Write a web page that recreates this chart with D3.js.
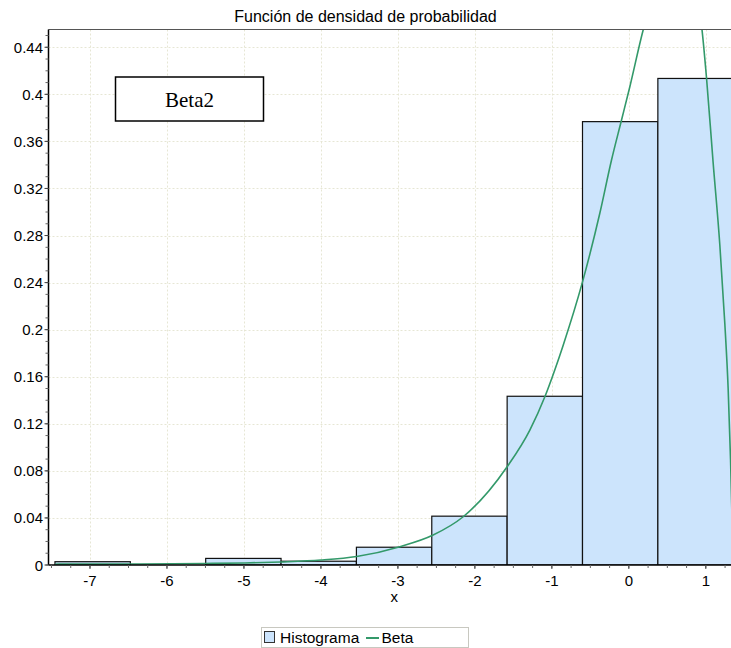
<!DOCTYPE html>
<html>
<head>
<meta charset="utf-8">
<script src="https://cdn.jsdelivr.net/npm/d3@7"></script>
<style>
  html, body { margin: 0; padding: 0; background: #fff; }
  svg { display: block; }
</style>
</head>
<body>
<svg id="chart" width="731" height="648"></svg>
<script>
// Histogram bins (edges) and their density heights
const binEdges = [-7.455, -6.476, -5.497, -4.518, -3.539, -2.560, -1.581, -0.602, 0.377, 1.356];
const binDensity = [0.0028, 0.0, 0.0056, 0.0032, 0.0151, 0.0415, 0.1434, 0.3768, 0.4135];

// Fitted Beta density, sampled along x
const curveX = [-7.455, -6.48, -5.506, -4.987, -4.519, -4.0, -3.536, -2.974, -2.542, -2.152,
                -1.581, -1.286, -1.091, -0.961, -0.857, -0.601, -0.377, -0.225, -0.095, 0.013,
                0.186, 0.40, 0.60, 0.80, 0.952, 1.009, 1.095, 1.182, 1.247, 1.290, 1.321, 1.356];
const curveY = [0.0007, 0.0008, 0.0013, 0.0017, 0.0026, 0.0042, 0.0072, 0.0156, 0.0255, 0.041,
                0.0835, 0.1147, 0.143, 0.166, 0.186, 0.2408, 0.2989, 0.3442, 0.3782, 0.4065,
                0.4547, 0.500, 0.518, 0.502, 0.454, 0.414, 0.342, 0.272, 0.205, 0.150, 0.090, 0.0];

// Axis ticks
const xTicks = [-7, -6, -5, -4, -3, -2, -1, 0, 1];
const yTicks = [0, 0.04, 0.08, 0.12, 0.16, 0.2, 0.24, 0.28, 0.32, 0.36, 0.4, 0.44];
const yTickLabels = ["0", "0.04", "0.08", "0.12", "0.16", "0.2", "0.24", "0.28", "0.32", "0.36", "0.4", "0.44"];

const titleText = "Función de densidad de probabilidad";
const xLabel = "x";
const noteText = "Beta2";
const legendLabels = ["Histograma", "Beta"];

const plot = { left: 48.5, right: 740, top: 29.5, bottom: 565 };
const W = 731, H = 648;
const sans = "'Liberation Sans', Arial, sans-serif";

const svg = d3.select("#chart");
svg.append("rect").attr("width", W).attr("height", H).attr("fill", "#fff");

const x = d3.scaleLinear().domain([-7.539, 1.444]).range([plot.left, plot.right]);
const y = d3.scaleLinear().domain([0, 0.4551]).range([plot.bottom, plot.top]);

svg.append("defs").append("clipPath").attr("id", "plotClip")
  .append("rect")
  .attr("x", plot.left).attr("y", plot.top)
  .attr("width", plot.right - plot.left).attr("height", plot.bottom - plot.top);

// Grid lines
const grid = svg.append("g").attr("stroke", "#e6e6d4").attr("stroke-dasharray", "2,2").attr("stroke-width", 1);
grid.selectAll("line.v").data(xTicks).join("line").attr("class", "v")
  .attr("x1", d => Math.round(x(d)) + 0.5).attr("x2", d => Math.round(x(d)) + 0.5)
  .attr("y1", plot.top).attr("y2", plot.bottom);
grid.selectAll("line.h").data(yTicks.slice(1)).join("line").attr("class", "h")
  .attr("y1", d => Math.round(y(d)) + 0.5).attr("y2", d => Math.round(y(d)) + 0.5)
  .attr("x1", plot.left).attr("x2", plot.right);

// Histogram bars
const bins = binDensity.map((v, i) => ({ x0: binEdges[i], x1: binEdges[i + 1], v }));
svg.append("g").attr("clip-path", "url(#plotClip)")
  .selectAll("rect").data(bins).join("rect")
  .attr("x", d => x(d.x0))
  .attr("y", d => y(d.v))
  .attr("width", d => x(d.x1) - x(d.x0))
  .attr("height", d => y(0) - y(d.v))
  .attr("fill", "#cce4fc")
  .attr("stroke", "#111")
  .attr("stroke-width", 1.2);

// Density curve
const pts = curveX.map((v, i) => [v, curveY[i]]);
const line = d3.line().x(d => x(d[0])).y(d => y(d[1])).curve(d3.curveMonotoneX);
svg.append("path").attr("clip-path", "url(#plotClip)")
  .datum(pts)
  .attr("d", line)
  .attr("fill", "none")
  .attr("stroke", "#33996a")
  .attr("stroke-width", 1.6);

// Top border
svg.append("line").attr("x1", plot.left).attr("x2", plot.right)
  .attr("y1", plot.top).attr("y2", plot.top).attr("stroke", "#555").attr("stroke-width", 1);

// X axis
const xMinor = d3.range(-7.5, 1.5, 0.25).filter(v => x(v) >= plot.left && x(v) <= plot.right);
const xAxisG = svg.append("g").attr("transform", `translate(0,${plot.bottom})`);
xAxisG.append("line").attr("x1", plot.left).attr("x2", plot.right).attr("stroke", "#000").attr("stroke-width", 1.5);
xAxisG.selectAll("line.minor").data(xMinor).join("line").attr("class", "minor")
  .attr("x1", d => x(d)).attr("x2", d => x(d)).attr("y1", 0).attr("y2", 3)
  .attr("stroke", "#666");
xAxisG.selectAll("line.major").data(xTicks).join("line").attr("class", "major")
  .attr("x1", d => x(d)).attr("x2", d => x(d)).attr("y1", 0).attr("y2", 4)
  .attr("stroke", "#444");
xAxisG.selectAll("text").data(xTicks).join("text")
  .attr("x", d => x(d)).attr("y", 21)
  .attr("text-anchor", "middle")
  .attr("font-family", sans).attr("font-size", 15).attr("fill", "#000")
  .text(d => d);
svg.append("text").attr("x", (plot.left + plot.right) / 2).attr("y", 602)
  .attr("text-anchor", "middle").attr("font-family", sans).attr("font-size", 15)
  .text(xLabel);

// Y axis
const yMinor = d3.range(0, 0.455, 0.01);
const yAxisG = svg.append("g").attr("transform", `translate(${plot.left},0)`);
yAxisG.append("line").attr("y1", plot.top).attr("y2", plot.bottom).attr("stroke", "#000").attr("stroke-width", 1.5);
yAxisG.selectAll("line.minor").data(yMinor).join("line").attr("class", "minor")
  .attr("y1", d => y(d)).attr("y2", d => y(d)).attr("x1", 0).attr("x2", -3)
  .attr("stroke", "#666");
yAxisG.selectAll("line.major").data(yTicks).join("line").attr("class", "major")
  .attr("y1", d => y(d)).attr("y2", d => y(d)).attr("x1", 0).attr("x2", -4)
  .attr("stroke", "#444");
yAxisG.selectAll("text").data(yTicks).join("text")
  .attr("x", -5.5).attr("y", d => y(d) + 5.5)
  .attr("text-anchor", "end")
  .attr("font-family", sans).attr("font-size", 15).attr("fill", "#000")
  .text((d, i) => yTickLabels[i]);

// Title
svg.append("text").attr("x", W / 2).attr("y", 22)
  .attr("text-anchor", "middle").attr("font-family", sans).attr("font-size", 16)
  .text(titleText);

// Note box
svg.append("rect").attr("x", 115.5).attr("y", 77).attr("width", 148).attr("height", 44)
  .attr("fill", "#fff").attr("stroke", "#000").attr("stroke-width", 1.5);
svg.append("text").attr("x", 189.5).attr("y", 107)
  .attr("text-anchor", "middle").attr("font-family", "'Liberation Serif', 'Times New Roman', serif")
  .attr("font-size", 21).text(noteText);

// Legend
const lg = svg.append("g");
lg.append("rect").attr("x", 261.5).attr("y", 627.5).attr("width", 207).attr("height", 20)
  .attr("fill", "#fff").attr("stroke", "#c8c8c0");
lg.append("rect").attr("x", 264.5).attr("y", 631.5).attr("width", 10).attr("height", 11)
  .attr("fill", "#cce4fc").attr("stroke", "#333");
lg.append("text").attr("x", 280).attr("y", 643).attr("font-family", sans).attr("font-size", 15.5)
  .text(legendLabels[0]);
lg.append("line").attr("x1", 366).attr("x2", 379).attr("y1", 638).attr("y2", 638)
  .attr("stroke", "#33996a").attr("stroke-width", 2);
lg.append("text").attr("x", 381.5).attr("y", 643).attr("font-family", sans).attr("font-size", 15.5)
  .text(legendLabels[1]);
</script>
</body>
</html>
